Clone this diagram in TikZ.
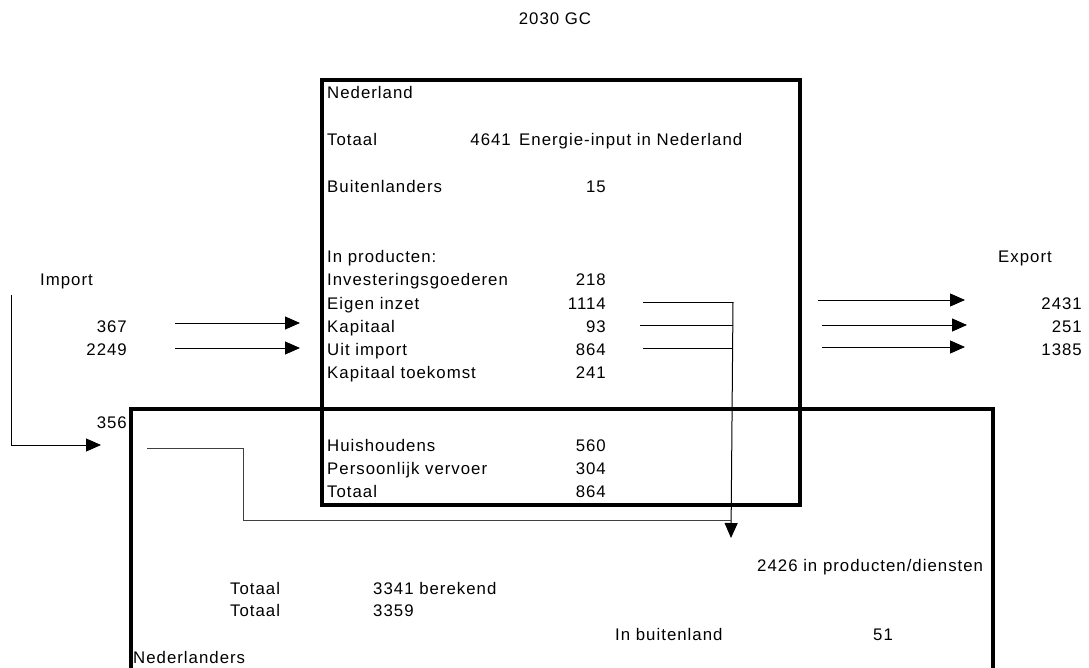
\documentclass[tikz,border=0pt]{standalone}
\usepackage{fontspec}
\setmainfont{Liberation Sans}[LetterSpace=6]
\usetikzlibrary{arrows.meta}
\begin{document}
\begin{tikzpicture}[x=1pt,y=-1pt,
  font=\fontsize{16.8}{19}\selectfont,
  lbl/.style={inner sep=0pt,anchor=base west},
  num/.style={inner sep=0pt,anchor=base east},
  frame/.style={draw=black,line width=3.5pt},
  conn/.style={draw=black,line width=1pt},
  arr/.style={conn,-{Triangle[length=15pt,width=13pt]}}]
\useasboundingbox (0,0) rectangle (1089,668);
% title
\node[inner sep=0pt,anchor=base] (title) at (555,25) {2030 GC};
% frames
\draw[frame] (322,80) rectangle (800,505);
\draw[frame] (131,680) -- (131,409) -- (993,409) -- (993,680);
% Nederland box texts
\node[lbl] (ned) at (327,99) {Nederland};
\node[lbl] (tot1) at (327,146) {Totaal};
\node[num] (v4641) at (511,146) {4641};
\node[lbl] (einp) at (519,146) {Energie-input in Nederland};
\node[lbl] (buit) at (327,193) {Buitenlanders};
\node[num] (v15) at (606,193) {15};
\node[lbl] (inpr) at (327,263) {In producten:};
\node[lbl] (inv) at (327,286) {Investeringsgoederen};
\node[num] (v218) at (606,286) {218};
\node[lbl] (eig) at (327,309) {Eigen inzet};
\node[num] (v1114) at (606,309) {1114};
\node[lbl] (kap) at (327,332) {Kapitaal};
\node[num] (v93) at (606,332) {93};
\node[lbl] (uit) at (327,355) {Uit import};
\node[num] (v864a) at (606,355) {864};
\node[lbl] (kapt) at (327,378) {Kapitaal toekomst};
\node[num] (v241) at (606,378) {241};
\node[lbl] (huis) at (327,451) {Huishoudens};
\node[num] (v560) at (606,451) {560};
\node[lbl] (pers) at (327,474) {Persoonlijk vervoer};
\node[num] (v304) at (606,474) {304};
\node[lbl] (tot2) at (327,497) {Totaal};
\node[num] (v864b) at (606,497) {864};
% import side
\node[lbl] (imp) at (40,286) {Import};
\node[num] (v367) at (127,332) {367};
\node[num] (v2249) at (127,355) {2249};
\node[num] (v356) at (127,428) {356};
\coordinate (i0) at (11,295);
\coordinate (i1) at (11,445);
\coordinate (i2) at (101,445);
\draw[arr] (i0) -- (i1) -- (i2);
\coordinate (a1s) at (175,323); \coordinate (a1e) at (300,323);
\coordinate (a2s) at (175,348); \coordinate (a2e) at (300,348);
\draw[arr] (a1s) -- (a1e);
\draw[arr] (a2s) -- (a2e);
% internal flows
\coordinate (e1) at (643,302); \coordinate (e2) at (640,325); \coordinate (e3) at (643,348);
\coordinate (j1) at (733,302); \coordinate (j2) at (733,325); \coordinate (j3) at (733,348);
\coordinate (down) at (731,538);
\draw[conn] (e1) -- (j1);
\draw[conn] (e2) -- (j2);
\draw[conn] (e3) -- (j3);
\draw[arr] (j1) -- (down);
\coordinate (h0) at (147,448); \coordinate (h1) at (243,448); \coordinate (h2) at (243,520); \coordinate (h3) at (731,520);
\draw[conn,draw=black!75] (h0) -- (h1) -- (h2) -- (h3);
% export side
\node[lbl] (exp) at (998,263) {Export};
\coordinate (x1s) at (818,300); \coordinate (x1e) at (965,300);
\coordinate (x2s) at (822,325); \coordinate (x2e) at (967,325);
\coordinate (x3s) at (822,347); \coordinate (x3e) at (965,347);
\draw[arr] (x1s) -- (x1e);
\draw[arr] (x2s) -- (x2e);
\draw[arr] (x3s) -- (x3e);
\node[num] (v2431) at (1082,309) {2431};
\node[num] (v251) at (1082,332) {251};
\node[num] (v1385) at (1082,355) {1385};
% Nederlanders box texts
\node[lbl] (ipd) at (757,571) {2426 in producten/diensten};
\node[lbl] (tb1) at (230,594) {Totaal};
\node[lbl] (b3341) at (373,594) {3341 berekend};
\node[lbl] (tb2) at (230,616) {Totaal};
\node[lbl] (b3359) at (373,616) {3359};
\node[lbl] (inb) at (615,640) {In buitenland};
\node[lbl] (v51) at (873,640) {51};
\node[lbl] (nedl) at (133,663) {Nederlanders};
\end{tikzpicture}
\end{document}
